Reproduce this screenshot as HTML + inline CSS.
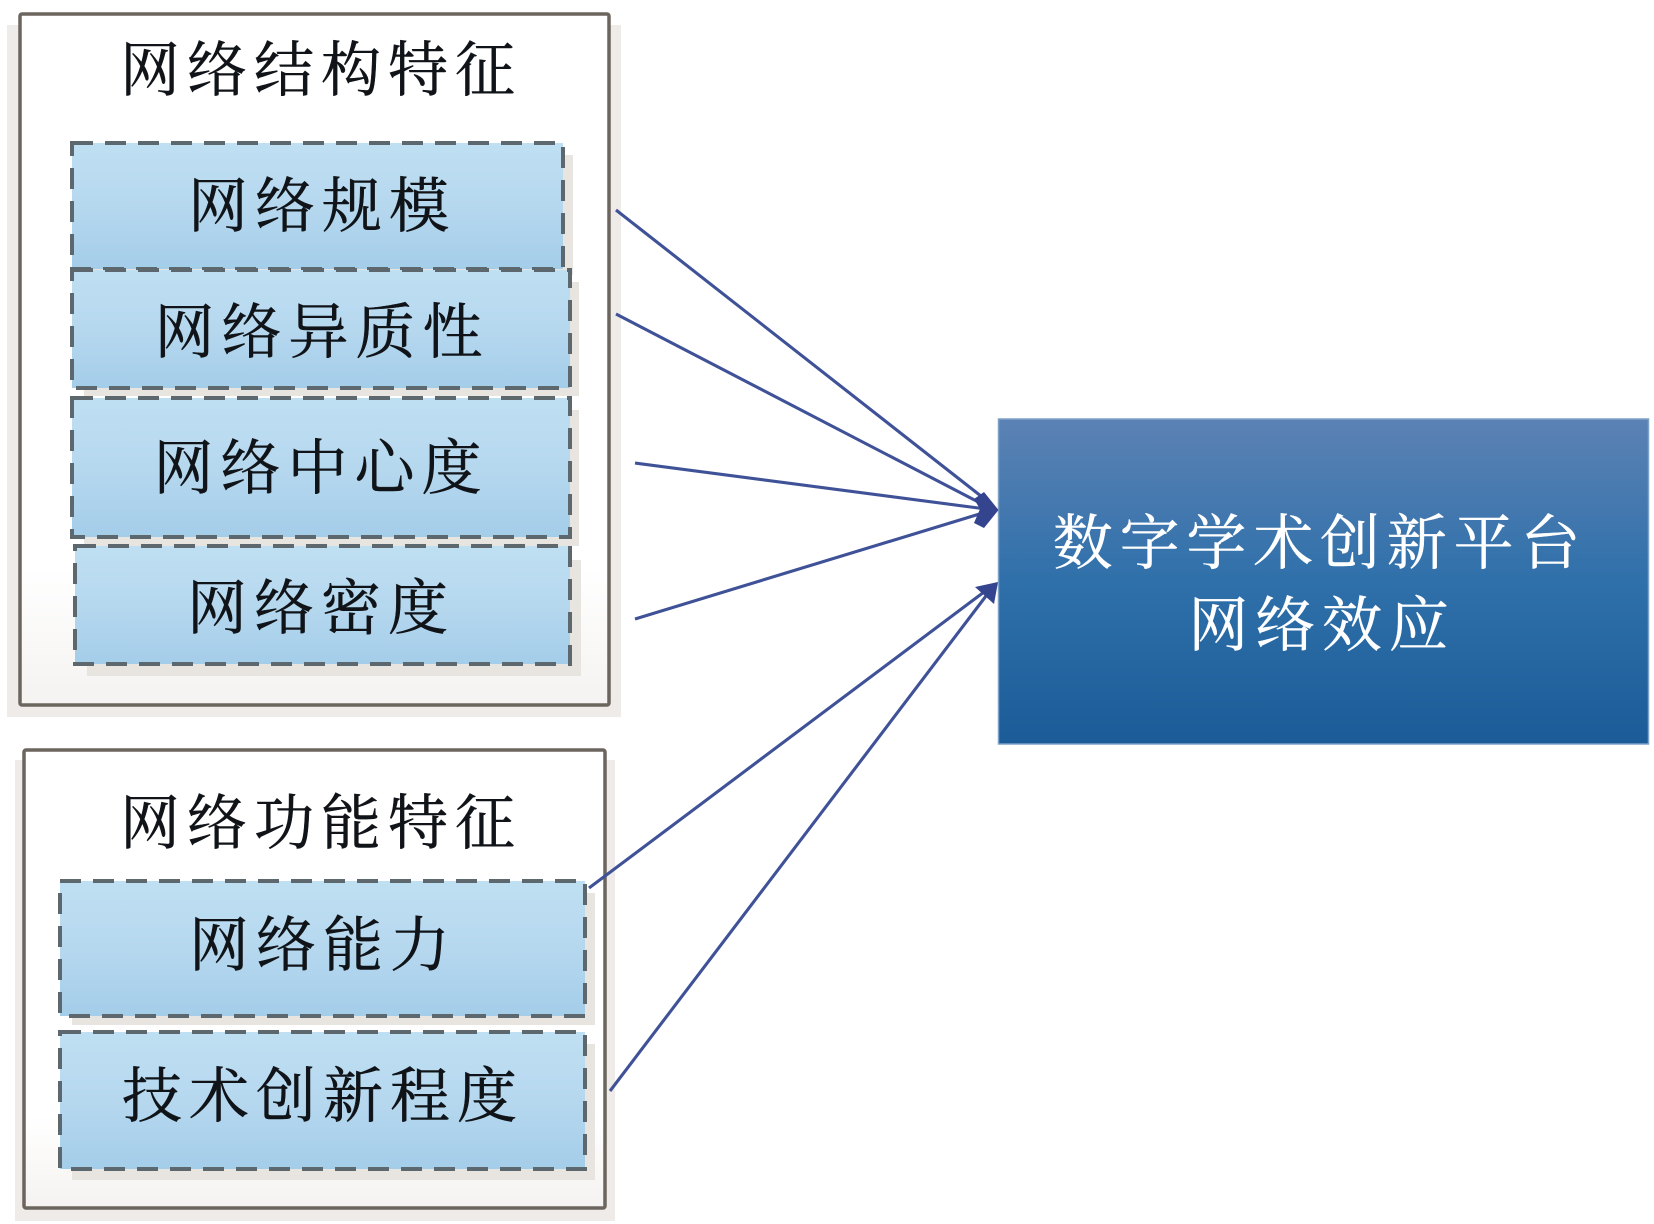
<!DOCTYPE html>
<html lang="zh">
<head>
<meta charset="utf-8">
<title>数字学术创新平台网络效应</title>
<style>
html,body{margin:0;padding:0;background:#fff;width:1654px;height:1224px;overflow:hidden}
svg{display:block}
text{font-family:"Liberation Serif","Noto Serif CJK SC",serif;font-weight:400;text-anchor:middle}
.t{fill:#101418;font-size:60px;letter-spacing:7px;stroke:#101418;stroke-width:.5px}
.w{fill:#fff;font-size:60px;letter-spacing:6.8px;stroke:#fff;stroke-width:.4px}
.dash{stroke:#5c686d;stroke-width:4;stroke-dasharray:21 12;fill:url(#lb)}
.shadow{fill:#e8e4e0}
.line{stroke:#3f5298;stroke-width:3.1;fill:none}
</style>
</head>
<body>
<svg width="1654" height="1224" viewBox="0 0 1654 1224" xmlns="http://www.w3.org/2000/svg">
<defs>
<linearGradient id="lb" x1="0" y1="0" x2="0" y2="1">
<stop offset="0" stop-color="#bfdff2"/>
<stop offset="0.5" stop-color="#b6d8ef"/>
<stop offset="1" stop-color="#a4cde9"/>
</linearGradient>
<linearGradient id="db" x1="0" y1="0" x2="0" y2="1">
<stop offset="0" stop-color="#5c82b4"/>
<stop offset="0.5" stop-color="#2f70aa"/>
<stop offset="1" stop-color="#1b5c98"/>
</linearGradient>
<linearGradient id="wb" x1="0" y1="0" x2="0" y2="1">
<stop offset="0" stop-color="#ffffff"/>
<stop offset="0.8" stop-color="#ffffff"/>
<stop offset="1" stop-color="#f5f3f1"/>
</linearGradient>
</defs>
<rect width="1654" height="1224" fill="#fff"/>

<!-- outer group 1 -->
<rect x="7" y="25" width="614" height="692" fill="#eeebe8"/>
<rect x="20" y="14" width="589" height="691" rx="2" fill="url(#wb)" stroke="#6b655e" stroke-width="3.5"/>
<!-- outer group 2 -->
<rect x="15" y="760" width="600" height="461" fill="#eeebe8"/>
<rect x="24" y="750" width="581" height="458" rx="2" fill="url(#wb)" stroke="#6b655e" stroke-width="3.5"/>

<!-- inner shadows -->
<rect class="shadow" x="84" y="155" width="489" height="120"/>
<rect class="shadow" x="84" y="282" width="495" height="114"/>
<rect class="shadow" x="84" y="410" width="495" height="136"/>
<rect class="shadow" x="87" y="560" width="494" height="116"/>
<rect class="shadow" x="72" y="893" width="523" height="132"/>
<rect class="shadow" x="72" y="1044" width="523" height="136"/>

<!-- inner boxes -->
<rect class="dash" x="72" y="143" width="491" height="126"/>
<rect class="dash" x="72" y="270" width="498" height="118"/>
<rect class="dash" x="72" y="398" width="498" height="139"/>
<rect class="dash" x="75" y="546" width="495" height="118"/>
<rect class="dash" x="60" y="881" width="525" height="135"/>
<rect class="dash" x="60" y="1032" width="525" height="137"/>

<!-- labels -->
<text class="t" x="321" y="91">网络结构特征</text>
<text class="t" x="322" y="227">网络规模</text>
<text class="t" x="322" y="353">网络异质性</text>
<text class="t" x="321" y="489">网络中心度</text>
<text class="t" x="321" y="629">网络密度</text>
<text class="t" x="321" y="844">网络功能特征</text>
<text class="t" x="323" y="966">网络能力</text>
<text class="t" x="323" y="1117">技术创新程度</text>

<!-- main box -->
<rect x="1000" y="419" width="650" height="325" fill="url(#db)" stroke="#7fa2c8" stroke-width="1.5" transform="translate(-1.5 0) scale(1 1)"/>
<text class="w" x="1320" y="564">数字学术创新平台</text>
<text class="w" x="1322" y="646">网络效应</text>

<!-- connectors -->
<line class="line" x1="616" y1="210" x2="986" y2="500"/>
<line class="line" x1="616" y1="314" x2="986" y2="506"/>
<line class="line" x1="635" y1="463" x2="986" y2="509"/>
<line class="line" x1="635" y1="619" x2="986" y2="512"/>
<line class="line" x1="589" y1="888" x2="984" y2="592"/>
<line class="line" x1="610" y1="1091" x2="986" y2="596"/>

<!-- arrowheads -->
<polygon points="998.5,510 984,492 974,499 980,509 974,523 984,528" fill="#34448f"/>
<polygon points="998,582 975,587 994,604" fill="#34448f"/>
</svg>
</body>
</html>
